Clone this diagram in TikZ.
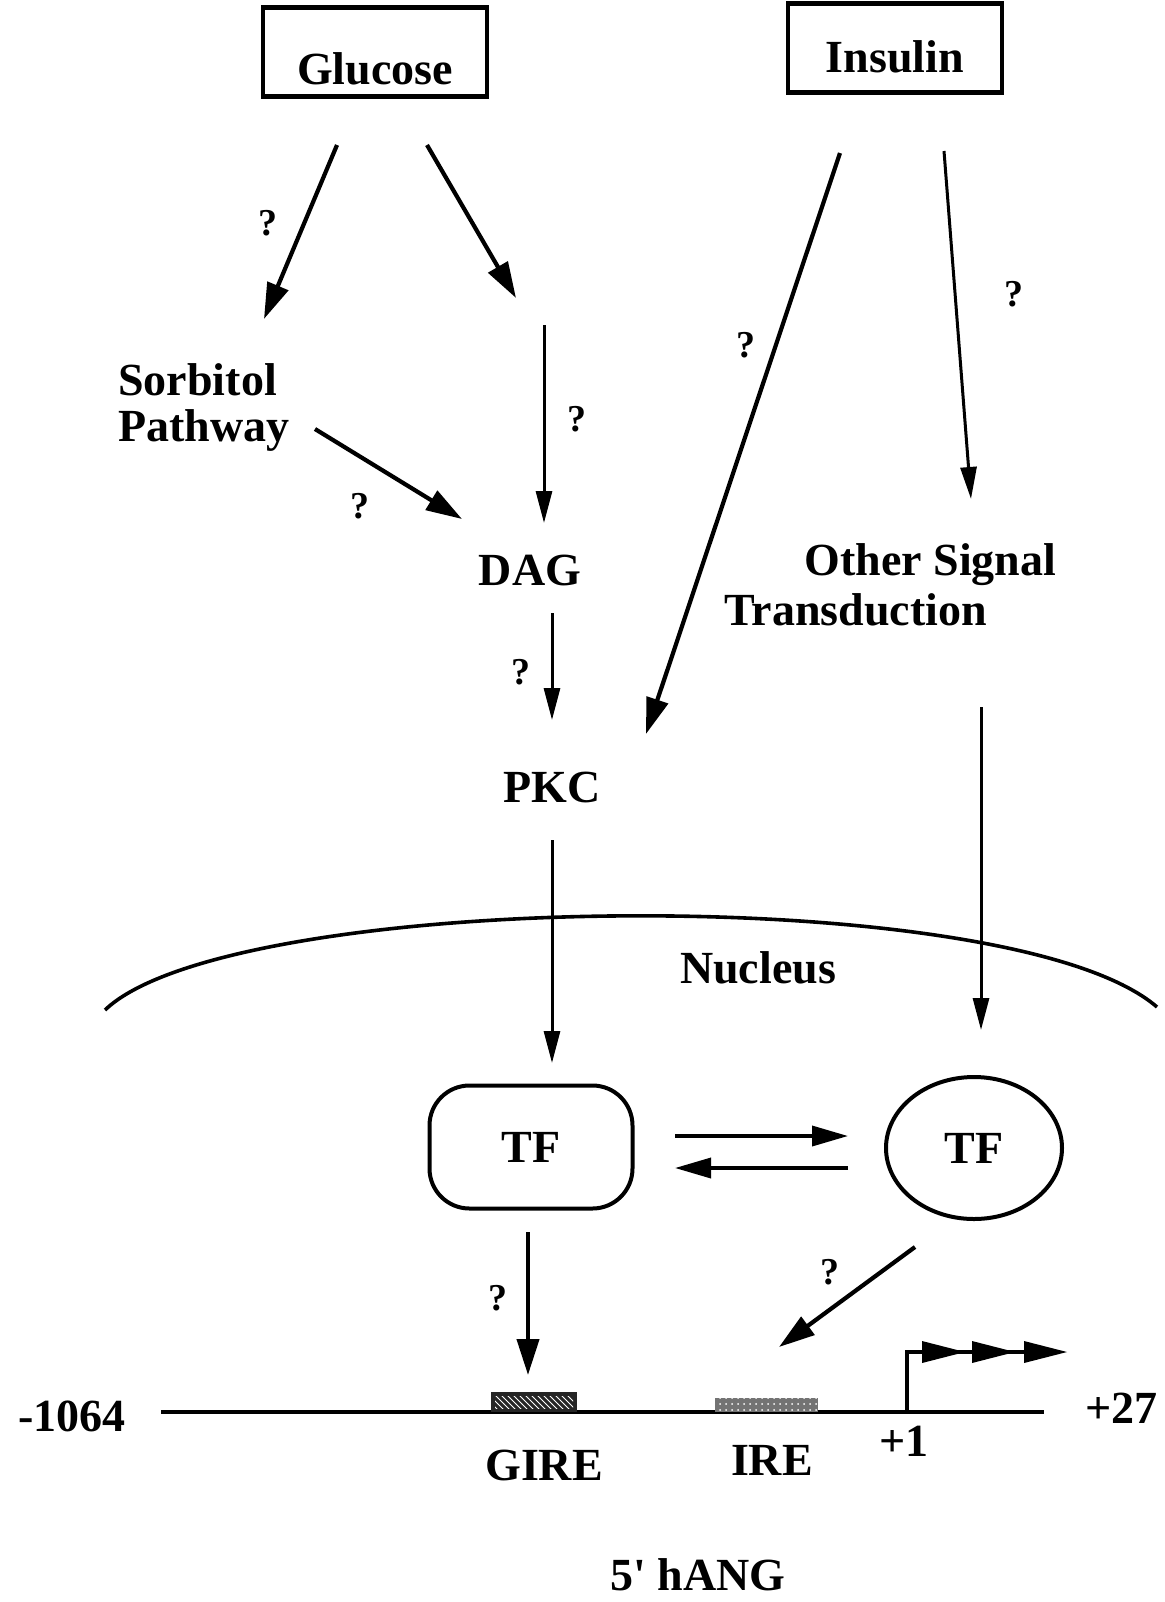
\documentclass[tikz,border=0pt]{standalone}
\usepackage{fontspec}
\setmainfont{Liberation Serif}
\usetikzlibrary{arrows.meta,patterns,shapes.geometric}
\begin{document}
\begin{tikzpicture}[x=0.5pt,y=-0.5pt,
  lbl/.style={font=\bfseries\fontsize{23}{26}\selectfont, inner sep=0pt},
  qm/.style={font=\bfseries\fontsize{19}{21}\selectfont, inner sep=0pt},
  srcbox/.style={draw, line width=2.2pt, inner sep=0pt},
  bigarrow/.style={line width=2.1pt, -{Triangle[length=18pt,width=11pt]}},
  midarrow/.style={line width=1.8pt, -{Triangle[length=18pt,width=10pt]}},
  thinarrow/.style={line width=1.5pt, -{Triangle[length=16pt,width=8pt]}},
]
\useasboundingbox (0,0) rectangle (1164,1602);

% source boxes
\node[srcbox, minimum width=112pt, minimum height=44.5pt] (glucosebox) at (375,52) {};
\node[lbl, anchor=base] (glucose) at (375,84) {Glucose};
\node[srcbox, minimum width=107pt, minimum height=44.5pt] (insulinbox) at (895,48) {};
\node[lbl, anchor=base] (insulin) at (895,72) {Insulin};

% labels
\node[lbl, anchor=base west] (sorb1) at (118,395) {Sorbitol};
\node[lbl, anchor=base west] (sorb2) at (118,441) {Pathway};
\node[lbl, anchor=base] (dag) at (530,585) {DAG};
\node[lbl, anchor=base] (pkc) at (552,802) {PKC};
\node[lbl, anchor=base west] (other1) at (804,575) {Other Signal};
\node[lbl, anchor=base west] (other2) at (724,625) {Transduction};
\node[lbl, anchor=base] (nucleus) at (758,983) {Nucleus};

% question marks
\node[qm] (q1) at (268,223) {?};
\node[qm] (q2) at (577,419) {?};
\node[qm] (q3) at (360,506) {?};
\node[qm] (q4) at (521,672) {?};
\node[qm] (q5) at (746,345) {?};
\node[qm] (q6) at (1014,294) {?};
\node[qm] (q7) at (498,1298) {?};
\node[qm] (q8) at (830,1272) {?};

% arrow end points
\coordinate (a1s) at (337,145); \coordinate (a1e) at (264,319);
\coordinate (a2s) at (427,145); \coordinate (a2e) at (516,298);
\coordinate (a3s) at (544,325); \coordinate (a3e) at (544,523);
\coordinate (a4s) at (315,429); \coordinate (a4e) at (462,519);
\coordinate (a5s) at (552,613); \coordinate (a5e) at (552,720);
\coordinate (a6s) at (840,153); \coordinate (a6e) at (646,734);
\coordinate (a7s) at (944,151); \coordinate (a7e) at (971,499);
\coordinate (a8s) at (552,840); \coordinate (a8e) at (552,1063);
\coordinate (a9s) at (981,707); \coordinate (a9e) at (981,1030);
\coordinate (a10s) at (675,1136); \coordinate (a10e) at (848,1136);
\coordinate (a11s) at (848,1168); \coordinate (a11e) at (675,1168);
\coordinate (a12s) at (528,1232); \coordinate (a12e) at (528,1375);
\coordinate (a13s) at (915,1247); \coordinate (a13e) at (779,1347);

\draw[bigarrow] (a1s) -- (a1e);
\draw[bigarrow] (a2s) -- (a2e);
\draw[thinarrow] (a3s) -- (a3e);
\draw[bigarrow] (a4s) -- (a4e);
\draw[thinarrow] (a5s) -- (a5e);
\draw[bigarrow] (a6s) -- (a6e);
\draw[thinarrow] (a7s) -- (a7e);
\draw[thinarrow] (a8s) -- (a8e);
\draw[thinarrow] (a9s) -- (a9e);
\draw[midarrow] (a10s) -- (a10e);
\draw[midarrow] (a11s) -- (a11e);
\draw[bigarrow] (a12s) -- (a12e);
\draw[bigarrow] (a13s) -- (a13e);

% nucleus membrane
\draw[line width=1.8pt] (105,1010) .. controls (230,890) and (1010,880) .. (1157,1007);

% transcription factors
\node[draw, line width=2pt, rounded corners=20pt, minimum width=101.5pt, minimum height=61.5pt,
      font=\bfseries\fontsize{23}{26}\selectfont] (tf1) at (531,1147) {TF};
\node[draw, ellipse, line width=2pt, minimum width=88pt, minimum height=71pt, inner sep=0pt,
      font=\bfseries\fontsize{23}{26}\selectfont] (tf2) at (974,1148) {TF};

% DNA
\draw[line width=2.2pt] (161,1412) -- (1044,1412);
\fill[black!85] (491,1392) rectangle (577,1412);
\fill[pattern=north west lines, pattern color=white] (495,1396) rectangle (573,1408);
\fill[black!55] (715,1398) rectangle (818,1412);
\fill[pattern=dots, pattern color=white] (715,1398) rectangle (818,1412);

% transcription start
\draw[line width=2pt] (907,1413) -- (907,1352) -- (1030,1352);
\fill (922,1341) -- (965,1352) -- (922,1363) -- cycle;
\fill (972,1341) -- (1015,1352) -- (972,1363) -- cycle;
\fill (1024,1341) -- (1067,1352) -- (1024,1363) -- cycle;

% positions
\node[lbl, anchor=base east] (m1064) at (126,1431) {-1064};
\node[lbl, anchor=base west] (p27) at (1085,1423) {+27};
\node[lbl, anchor=base] (p1) at (904,1456) {+1};
\node[lbl, anchor=base] (gire) at (544,1480) {GIRE};
\node[lbl, anchor=base] (ire) at (772,1475) {IRE};
\node[lbl, anchor=base] (hang) at (698,1590) {5\textquotesingle{} hANG};
\end{tikzpicture}
\end{document}
